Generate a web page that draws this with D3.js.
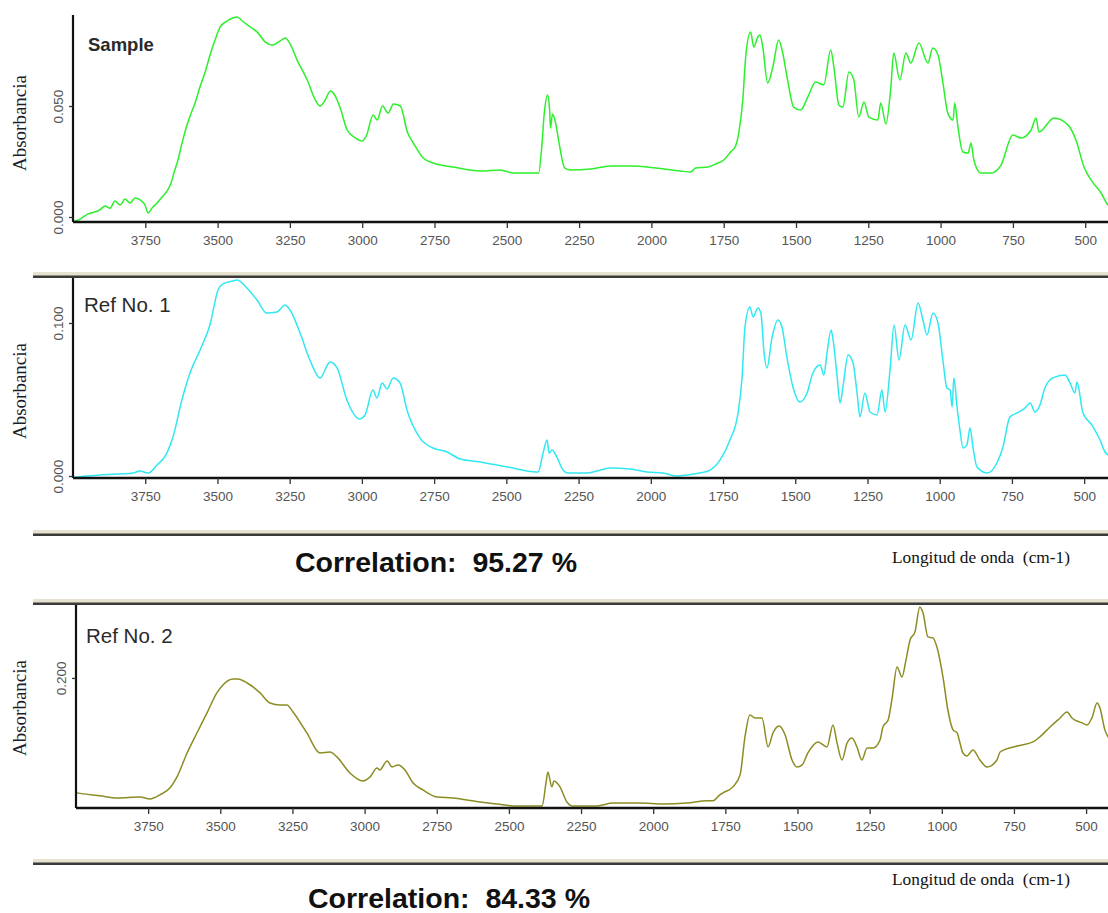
<!DOCTYPE html>
<html>
<head>
<meta charset="utf-8">
<script src="https://cdn.jsdelivr.net/npm/d3@7"></script>
<style>
  html, body { margin: 0; padding: 0; background: #fff; }
  svg { display: block; }
  text { white-space: pre; }
  .tick text { font-family: "Liberation Sans", Arial, sans-serif; font-size: 13.5px; fill: #555; }
</style>
</head>
<body>
<svg id="chart" width="1108" height="913"></svg>
<script>
// Wavenumber ticks shared by all three spectra (cm-1)
const wnTicks = [3750, 3500, 3250, 3000, 2750, 2500, 2250, 2000, 1750, 1500, 1250, 1000, 750, 500];

// Sample spectrum
const sampleWn = [4000,3993,3948,3907,3889,3872,3855,3837,3820,3803,3785,3768,3751,3740,3727,3709,3692,3675,3661,3650,3637,3623,3609,3595,3578,3560,3543,3526,3509,3491,3467,3432,3415,3387,3363,3335,3311,3284,3266,3249,3225,3190,3162,3145,3128,3110,3093,3076,3052,3024,3000,2986,2962,2948,2930,2910,2892,2868,2844,2823,2789,2754,2685,2591,2522,2477,2390,2380,2370,2359,2352,2349,2342,2332,2318,2300,2280,2210,2141,2072,1985,1899,1864,1847,1805,1778,1750,1726,1709,1698,1684,1674,1657,1646,1632,1625,1615,1598,1580,1560,1546,1529,1508,1484,1459,1432,1404,1380,1369,1352,1338,1317,1300,1283,1265,1248,1217,1207,1189,1172,1162,1141,1120,1103,1075,1044,1027,1009,992,975,957,951,940,923,905,895,885,861,826,791,750,722,687,670,660,608,559,532,504,480,445,421,397];
const sampleAbs = [-0.0015,-0.0018,0.0014,0.0032,0.0050,0.0040,0.0072,0.0054,0.0081,0.0063,0.0086,0.0077,0.0054,0.0018,0.0040,0.0063,0.0090,0.0117,0.0153,0.0203,0.0257,0.0333,0.0401,0.0455,0.0514,0.0590,0.0653,0.0730,0.0797,0.0856,0.0883,0.0901,0.0883,0.0856,0.0833,0.0788,0.0775,0.0793,0.0806,0.0779,0.0707,0.0617,0.0527,0.0500,0.0527,0.0568,0.0545,0.0491,0.0392,0.0356,0.0342,0.0365,0.0459,0.0437,0.0500,0.0468,0.0509,0.0500,0.0383,0.0333,0.0266,0.0243,0.0225,0.0207,0.0212,0.0198,0.0198,0.0302,0.0473,0.0550,0.0482,0.0401,0.0464,0.0428,0.0324,0.0221,0.0212,0.0216,0.0230,0.0230,0.0221,0.0207,0.0203,0.0221,0.0225,0.0239,0.0257,0.0293,0.0320,0.0378,0.0527,0.0721,0.0833,0.0766,0.0811,0.0820,0.0766,0.0604,0.0676,0.0797,0.0739,0.0617,0.0495,0.0482,0.0541,0.0608,0.0595,0.0752,0.0676,0.0505,0.0495,0.0653,0.0617,0.0450,0.0518,0.0450,0.0437,0.0514,0.0419,0.0586,0.0739,0.0617,0.0739,0.0694,0.0784,0.0694,0.0761,0.0730,0.0604,0.0468,0.0437,0.0514,0.0405,0.0293,0.0288,0.0333,0.0257,0.0198,0.0198,0.0234,0.0369,0.0356,0.0392,0.0446,0.0383,0.0446,0.0414,0.0347,0.0225,0.0167,0.0108,0.0054,0.0040];

// Reference No. 1 spectrum
const ref1Wn = [4000,3993,3907,3792,3768,3740,3709,3675,3654,3623,3595,3560,3526,3498,3481,3446,3432,3398,3363,3329,3294,3266,3249,3214,3180,3145,3110,3086,3052,3007,2989,2962,2948,2930,2913,2892,2868,2844,2799,2754,2705,2660,2591,2532,2477,2429,2390,2373,2359,2352,2342,2325,2304,2287,2221,2186,2141,2072,2013,1958,1909,1875,1830,1795,1760,1726,1698,1684,1674,1657,1646,1629,1619,1608,1598,1580,1560,1546,1529,1508,1484,1459,1439,1414,1401,1390,1376,1369,1355,1345,1335,1317,1300,1286,1276,1259,1241,1217,1200,1189,1172,1158,1141,1120,1099,1075,1058,1044,1023,1006,989,975,964,957,951,940,930,919,906,895,885,871,836,802,781,757,732,705,687,670,653,636,608,566,549,532,525,504,473,445,428,410];
const ref1Abs = [-0.0008,-0.0007,0.0007,0.0020,0.0033,0.0020,0.0072,0.0150,0.0255,0.0497,0.0673,0.0824,0.0987,0.1216,0.1255,0.1275,0.1281,0.1229,0.1150,0.1065,0.1072,0.1118,0.1085,0.0935,0.0758,0.0641,0.0745,0.0706,0.0497,0.0373,0.0399,0.0562,0.0510,0.0608,0.0569,0.0641,0.0608,0.0431,0.0248,0.0183,0.0157,0.0111,0.0092,0.0072,0.0052,0.0033,0.0026,0.0150,0.0235,0.0150,0.0170,0.0124,0.0039,0.0020,0.0020,0.0033,0.0052,0.0046,0.0026,0.0020,0.0000,0.0007,0.0020,0.0039,0.0105,0.0235,0.0412,0.0647,0.0974,0.1105,0.1039,0.1098,0.1065,0.0804,0.0706,0.0909,0.1020,0.0974,0.0778,0.0582,0.0484,0.0542,0.0673,0.0725,0.0660,0.0804,0.0954,0.0889,0.0647,0.0477,0.0582,0.0791,0.0739,0.0542,0.0386,0.0542,0.0418,0.0399,0.0562,0.0418,0.0693,0.0987,0.0758,0.0987,0.0889,0.1131,0.1020,0.0922,0.1065,0.1000,0.0758,0.0575,0.0562,0.0451,0.0641,0.0451,0.0301,0.0183,0.0203,0.0314,0.0190,0.0059,0.0020,0.0085,0.0190,0.0386,0.0412,0.0444,0.0477,0.0418,0.0464,0.0575,0.0641,0.0660,0.0608,0.0542,0.0614,0.0412,0.0333,0.0235,0.0157,0.0131];

// Reference No. 2 spectrum
const ref2Wn = [4000,3997,3917,3858,3778,3744,3709,3674,3650,3615,3581,3546,3512,3491,3456,3439,3407,3362,3328,3293,3269,3248,3200,3155,3120,3096,3051,3006,2981,2957,2947,2922,2905,2884,2860,2832,2798,2749,2694,2600,2541,2486,2385,2371,2365,2351,2344,2323,2299,2281,2195,2139,2046,1966,1883,1814,1793,1769,1758,1724,1699,1682,1665,1647,1623,1602,1585,1564,1543,1519,1502,1484,1464,1429,1398,1377,1363,1346,1328,1311,1294,1277,1259,1238,1214,1204,1186,1173,1155,1138,1124,1110,1093,1076,1065,1048,1031,1017,996,979,961,947,937,927,913,892,868,843,809,798,739,684,660,625,590,566,549,514,497,480,462,452,435,424,410];
const ref2Abs = [0.1180,0.1179,0.1158,0.1143,0.1150,0.1136,0.1165,0.1215,0.1293,0.1464,0.1607,0.1750,0.1893,0.1950,0.1993,0.1993,0.1964,0.1893,0.1821,0.1807,0.1807,0.1757,0.1607,0.1464,0.1471,0.1436,0.1321,0.1264,0.1293,0.1357,0.1343,0.1407,0.1364,0.1379,0.1343,0.1250,0.1200,0.1150,0.1143,0.1114,0.1100,0.1086,0.1086,0.1257,0.1329,0.1222,0.1264,0.1222,0.1114,0.1086,0.1086,0.1107,0.1107,0.1100,0.1107,0.1122,0.1122,0.1165,0.1179,0.1222,0.1307,0.1579,0.1736,0.1714,0.1714,0.1507,0.1607,0.1657,0.1593,0.1414,0.1364,0.1379,0.1464,0.1543,0.1507,0.1664,0.1536,0.1414,0.1536,0.1571,0.1507,0.1414,0.1500,0.1500,0.1557,0.1650,0.1700,0.1843,0.2079,0.2007,0.2129,0.2271,0.2329,0.2507,0.2464,0.2293,0.2286,0.2221,0.2007,0.1771,0.1629,0.1607,0.1536,0.1464,0.1443,0.1486,0.1414,0.1364,0.1414,0.1471,0.1514,0.1543,0.1579,0.1650,0.1714,0.1757,0.1714,0.1679,0.1664,0.1714,0.1821,0.1786,0.1629,0.1579,0.1543];

// Absorbance ticks per panel
const sampleTicks = [0.000, 0.050];
const ref1Ticks = [0.000, 0.100];
const ref2Ticks = [0.200];

const panelNames = ["Sample", "Ref No. 1", "Ref No. 2"];
const correlations = ["Correlation:  95.27 %", "Correlation:  84.33 %"];
const yLabel = "Absorbancia";
const xLabel = "Longitud de onda  (cm-1)";

const svg = d3.select("#chart");
const W = 1108;

const panels = [
  { name: panelNames[0], wn: sampleWn, ab: sampleAbs, ticks: sampleTicks, color: "#2cf02c",
    x0: 73, pxPerUnit: 0.2892, top: 15, bottom: 222, yDomain: [-0.00225, 0.0910], bold: true,
    nameX: 88, nameY: 51, yLabelY: 123, topBand: false },
  { name: panelNames[1], wn: ref1Wn, ab: ref1Abs, ticks: ref1Ticks, color: "#30e8f2",
    x0: 73, pxPerUnit: 0.2889, top: 278, bottom: 478, yDomain: [-0.0013, 0.1294], bold: false,
    nameX: 84, nameY: 312, yLabelY: 391, topBand: true },
  { name: panelNames[2], wn: ref2Wn, ab: ref2Abs, ticks: ref2Ticks, color: "#8c8c22",
    x0: 76, pxPerUnit: 0.2886, top: 605, bottom: 808, yDomain: [0.1071, 0.2521], bold: false,
    nameX: 86, nameY: 643, yLabelY: 708, topBand: true }
];

// Window-style separator band: pale stripe over a dark rule
function band(y) {
  svg.append("rect").attr("x", 33).attr("y", y - 5).attr("width", W - 33).attr("height", 4)
    .attr("fill", "#e6e2cf");
  svg.append("rect").attr("x", 33).attr("y", y - 1.5).attr("width", W - 33).attr("height", 2.5)
    .attr("fill", "#3a3a3a");
}

const defs = svg.append("defs");

panels.forEach((p, i) => {
  const x = d3.scaleLinear().domain([4000, 400]).range([p.x0, p.x0 + 3600 * p.pxPerUnit]);
  const y = d3.scaleLinear().domain(p.yDomain).range([p.bottom, p.top]);

  if (p.topBand) band(p.top - 1);

  // clip to the plotting window
  const cid = "clip" + i;
  defs.append("clipPath").attr("id", cid).append("rect")
    .attr("x", p.x0).attr("y", p.top - 4).attr("width", W - p.x0).attr("height", p.bottom - p.top + 4);

  const pts = p.wn.map((w, k) => [w, p.ab[k]]);
  const line = d3.line().x(d => x(d[0])).y(d => y(d[1])).curve(d3.curveMonotoneX);
  svg.append("path").datum(pts)
    .attr("clip-path", `url(#${cid})`)
    .attr("d", line)
    .attr("fill", "none")
    .attr("stroke", p.color)
    .attr("stroke-width", 1.5)
    .attr("stroke-linejoin", "round");

  // x axis
  const gx = svg.append("g").attr("transform", `translate(0,${p.bottom})`)
    .call(d3.axisBottom(x).tickValues(wnTicks).tickFormat(d3.format("d"))
      .tickSize(6).tickPadding(7).tickSizeOuter(0));
  gx.select(".domain").attr("d", `M${p.x0},0H${W}`).attr("stroke", "#111").attr("stroke-width", 2.6);
  gx.selectAll(".tick line").attr("stroke", "#333").attr("stroke-width", 1.3);

  // y axis
  const gy = svg.append("g").attr("transform", `translate(${p.x0},0)`)
    .call(d3.axisLeft(y).tickValues(p.ticks).tickSize(4).tickFormat(d3.format(".3f")).tickSizeOuter(0));
  gy.select(".domain").attr("d", `M0,${p.top}V${p.bottom}`).attr("stroke", "#111").attr("stroke-width", 2.2);
  gy.selectAll(".tick line").attr("stroke", "#333").attr("stroke-width", 1.3);
  gy.selectAll(".tick text")
    .attr("x", null).attr("dy", null)
    .attr("text-anchor", "middle")
    .attr("transform", "translate(-10,0) rotate(-90)");

  // axis title
  svg.append("text")
    .attr("transform", `translate(26,${p.yLabelY}) rotate(-90)`)
    .attr("text-anchor", "middle")
    .attr("font-family", "'Liberation Serif', 'Times New Roman', serif")
    .attr("font-size", 19)
    .attr("fill", "#1c1c2c")
    .text(yLabel);

  // panel name
  svg.append("text")
    .attr("x", p.nameX).attr("y", p.nameY)
    .attr("font-family", "'Liberation Sans', Arial, sans-serif")
    .attr("font-size", p.bold ? 18.5 : 20.5)
    .attr("font-weight", p.bold ? "bold" : "normal")
    .attr("fill", "#2a2a2a")
    .text(p.name);
});

// separators and footers for the two comparisons
band(535);
band(864);

[[572, 295, 563], [908, 308, 885]].forEach((f, i) => {
  svg.append("text")
    .attr("x", f[1]).attr("y", f[0])
    .attr("font-family", "'Liberation Sans', Arial, sans-serif")
    .attr("font-size", 28)
    .attr("font-weight", "bold")
    .attr("fill", "#111")
    .attr("textLength", 282)
    .attr("lengthAdjust", "spacingAndGlyphs")
    .text(correlations[i]);
  svg.append("text")
    .attr("x", 892).attr("y", f[2])
    .attr("font-family", "'Liberation Serif', 'Times New Roman', serif")
    .attr("font-size", 17)
    .attr("fill", "#111")
    .attr("textLength", 178)
    .attr("lengthAdjust", "spacingAndGlyphs")
    .text(xLabel);
});
</script>
</body>
</html>
